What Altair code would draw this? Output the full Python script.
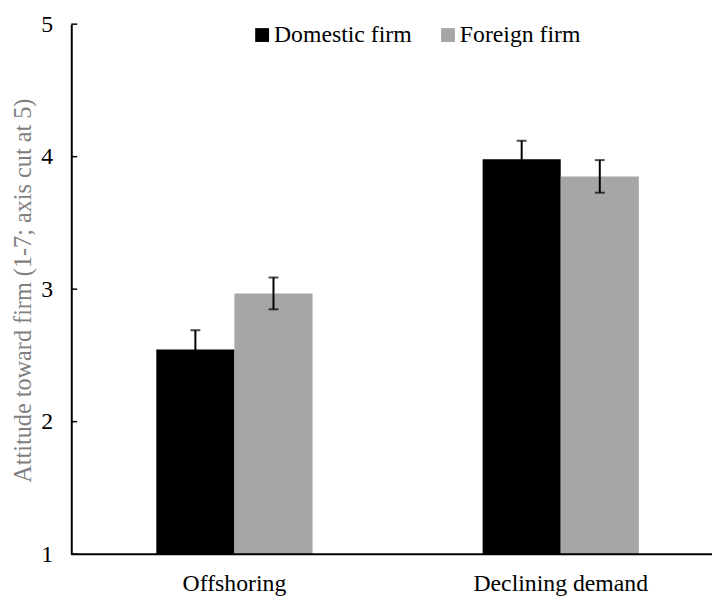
import altair as alt
import pandas as pd

categories = ["Offshoring", "Declining demand"]
firms = ["Domestic firm", "Foreign firm"]
means = [2.545, 2.968, 3.98, 3.851]
errors = [0.145, 0.12, 0.14, 0.123]
y_ticks = [1, 2, 3, 4, 5]

rows = []
i = 0
for c in categories:
    for f in firms:
        rows.append({"category": c, "firm": f, "mean": means[i],
                     "lo": means[i] - errors[i], "hi": means[i] + errors[i]})
        i += 1
df = pd.DataFrame(rows)

FONT = "Liberation Serif"
W, H = 648, 536

x_enc = alt.X("category:N", sort=categories,
              scale=alt.Scale(range=[0, 660], paddingInner=0.5212, paddingOuter=0.2606),
              axis=alt.Axis(title=None, labelAngle=0, domain=False, ticks=False,
                            labelFont=FONT, labelFontSize=24, labelColor="#000000",
                            labelPadding=18))
xo_enc = alt.XOffset("firm:N", sort=firms,
                     scale=alt.Scale(paddingInner=0, paddingOuter=0))
y_scale = alt.Scale(domain=[1, 5], nice=False, zero=False)
y_axis = alt.Axis(values=y_ticks, format="d", ticks=False, grid=False,
                  domainColor="#000000", domainWidth=2,
                  labelFont=FONT, labelFontSize=24, labelColor="#000000",
                  labelPadding=19,
                  title="Attitude toward firm (1-7; axis cut at 5)",
                  titleFont=FONT, titleFontSize=24.5, titleFontWeight="normal",
                  titleColor="#7f7f7f", titleX=-41, titleY=269,
                  titleAngle=270, titleAlign="center",
                  titleBaseline="alphabetic")

base = alt.Chart(df)

bars = base.mark_bar().encode(
    x=x_enc,
    xOffset=xo_enc,
    y=alt.Y("mean:Q", scale=y_scale, axis=y_axis),
    y2=alt.datum(1),
    color=alt.Color("firm:N",
                    scale=alt.Scale(domain=firms, range=["#000000", "#a6a6a6"]),
                    legend=alt.Legend(title=None, orient="none", legendX=181, legendY=-1,
                                      direction="horizontal", symbolType="square",
                                      symbolSize=196, symbolStrokeWidth=0,
                                      labelFont=FONT, labelFontSize=24,
                                      labelColor="#000000", labelOffset=0,
                                      columnPadding=24)),
)

err_rule = base.mark_rule(color="#000000", strokeWidth=2).encode(
    x=x_enc, xOffset=xo_enc,
    y=alt.Y("lo:Q", scale=y_scale, axis=y_axis), y2="hi:Q")

cap_hi = base.mark_tick(orient="horizontal", size=10, thickness=2, color="#000000").encode(
    x=x_enc, xOffset=xo_enc, y=alt.Y("hi:Q", scale=y_scale, axis=y_axis))
cap_lo = base.mark_tick(orient="horizontal", size=10, thickness=2, color="#000000").encode(
    x=x_enc, xOffset=xo_enc, y=alt.Y("lo:Q", scale=y_scale, axis=y_axis))

tick_df = pd.DataFrame({"t": y_ticks})
y_ticks_layer = alt.Chart(tick_df).mark_rule(color="#000000", strokeWidth=1.5).encode(
    y=alt.Y("t:Q", scale=y_scale, axis=y_axis), x=alt.value(0), x2=alt.value(6))

x_axis_line = alt.Chart(pd.DataFrame({"a": [0]})).mark_rule(color="#000000", strokeWidth=2).encode(
    x=alt.value(0), x2=alt.value(W), y=alt.value(H))

chart = alt.layer(bars, err_rule, cap_hi, cap_lo, y_ticks_layer, x_axis_line).properties(
    width=W, height=H,
    autosize=alt.AutoSizeParams(type="none"),
    padding={"left": 64, "top": 13, "right": 1, "bottom": 42},
    background="#ffffff",
).configure_view(stroke=None).configure_axis(
    labelFont=FONT, titleFont=FONT
).configure_legend(labelFont=FONT)

chart.save("out.html", embed_options={"renderer": "svg", "actions": False})
